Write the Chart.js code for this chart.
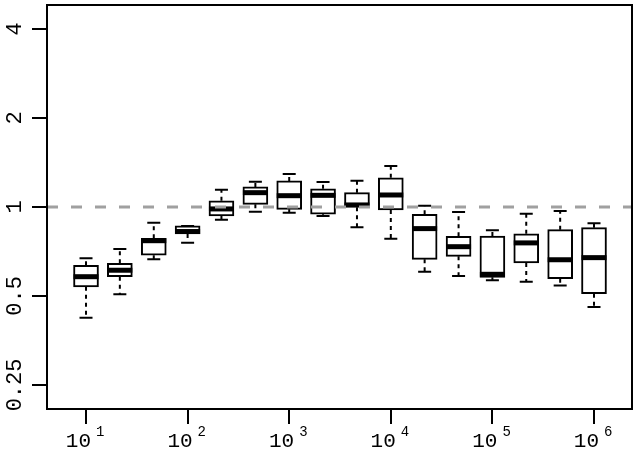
<!DOCTYPE html>
<html>
<head>
<meta charset="utf-8">
<script src="https://cdn.jsdelivr.net/npm/chart.js@4/dist/chart.umd.min.js"></script>
<style>
  html, body { margin: 0; padding: 0; background: #fff; }
  #wrap { width: 639px; height: 456px; }
</style>
</head>
<body>
<div id="wrap"><canvas id="c" width="639" height="456"></canvas></div>
<script>
// Box positions: log10 of size (one box every third of a decade)
const logSize   = [1.000, 1.333, 1.667, 2.000, 2.333, 2.667, 3.000, 3.333, 3.667, 4.000, 4.333, 4.667, 5.000, 5.333, 5.667, 6.000];
// Five-number summaries
const whiskerHi = [0.671, 0.721, 0.885, 0.863, 1.144, 1.218, 1.293, 1.215, 1.227, 1.376, 1.010, 0.962, 0.834, 0.949, 0.969, 0.881];
const q3        = [0.635, 0.645, 0.784, 0.863, 1.050, 1.169, 1.225, 1.153, 1.118, 1.256, 0.945, 0.796, 0.798, 0.812, 0.838, 0.851];
const median    = [0.581, 0.611, 0.769, 0.826, 0.985, 1.118, 1.092, 1.095, 1.016, 1.098, 0.845, 0.734, 0.592, 0.756, 0.663, 0.674];
const q1        = [0.537, 0.581, 0.687, 0.810, 0.932, 1.021, 0.982, 0.945, 0.998, 0.977, 0.665, 0.681, 0.578, 0.647, 0.572, 0.509];
const whiskerLo = [0.422, 0.507, 0.665, 0.757, 0.906, 0.964, 0.957, 0.932, 0.854, 0.781, 0.604, 0.584, 0.565, 0.559, 0.543, 0.459];
// Axis ticks
const xTickExp    = [1, 2, 3, 4, 5, 6];
const yTickValues = [0.25, 0.5, 1, 2, 4];
const yTickLabels = ['0.25', '0.5', '1', '2', '4'];
const refValue = 1;

const FONT = "'Liberation Mono', 'DejaVu Sans Mono', monospace";

const boxPlugin = {
  id: 'boxExtras',
  afterDatasetsDraw(chart) {
    const ctx = chart.ctx;
    const xs = chart.scales.x, ys = chart.scales.y;
    const ca = chart.chartArea;
    ctx.save();
    ctx.strokeStyle = '#000';
    for (let i = 0; i < logSize.length; i++) {
      const px = xs.getPixelForValue(logSize[i]);
      const yHi = ys.getPixelForValue(whiskerHi[i]);
      const yQ3 = ys.getPixelForValue(q3[i]);
      const yQ1 = ys.getPixelForValue(q1[i]);
      const yLo = ys.getPixelForValue(whiskerLo[i]);
      const yMed = ys.getPixelForValue(median[i]);
      // whiskers (dashed)
      ctx.lineWidth = 2;
      ctx.setLineDash([4, 4]);
      ctx.beginPath();
      ctx.moveTo(px, yQ3); ctx.lineTo(px, yHi);
      ctx.moveTo(px, yQ1); ctx.lineTo(px, yLo);
      ctx.stroke();
      // caps
      ctx.setLineDash([]);
      ctx.beginPath();
      ctx.moveTo(px - 6.5, yHi); ctx.lineTo(px + 6.5, yHi);
      ctx.moveTo(px - 6.5, yLo); ctx.lineTo(px + 6.5, yLo);
      ctx.stroke();
      // median
      ctx.lineWidth = 5;
      ctx.beginPath();
      ctx.moveTo(px - 12.5, yMed); ctx.lineTo(px + 12.5, yMed);
      ctx.stroke();
    }
    // reference line
    const yRef = ys.getPixelForValue(refValue);
    ctx.strokeStyle = '#a0a0a0';
    ctx.lineWidth = 3;
    ctx.setLineDash([11, 13]);
    ctx.beginPath();
    ctx.moveTo(ca.left, yRef); ctx.lineTo(ca.right, yRef);
    ctx.stroke();
    ctx.setLineDash([]);
    // frame
    ctx.strokeStyle = '#000';
    ctx.lineWidth = 2;
    ctx.strokeRect(ca.left, ca.top, ca.right - ca.left, ca.bottom - ca.top);
    // y labels (rotated)
    ctx.fillStyle = '#000';
    ctx.font = '22px ' + FONT;
    ctx.textAlign = 'center';
    ctx.textBaseline = 'middle';
    for (let i = 0; i < yTickValues.length; i++) {
      const py = ys.getPixelForValue(yTickValues[i]);
      ctx.save();
      ctx.translate(15, py);
      ctx.rotate(-Math.PI / 2);
      ctx.fillText(yTickLabels[i], 0, 0);
      ctx.restore();
    }
    // x labels 10^k
    ctx.textBaseline = 'alphabetic';
    for (const e of xTickExp) {
      const px = xs.getPixelForValue(e);
      ctx.font = '21px ' + FONT;
      ctx.textAlign = 'right';
      ctx.fillText('10', px + 5, 447);
      ctx.font = '14px ' + FONT;
      ctx.textAlign = 'left';
      ctx.fillText(String(e), px + 10, 436);
    }
    ctx.restore();
  }
};

new Chart(document.getElementById('c'), {
  type: 'bar',
  data: {
    datasets: [{
      data: logSize.map((x, i) => ({ x: x, y: [q1[i], q3[i]] })),
      backgroundColor: '#ffffff',
      borderColor: '#000000',
      borderWidth: 2,
      borderSkipped: false,
      barThickness: 25
    }]
  },
  options: {
    responsive: false,
    animation: false,
    devicePixelRatio: 1,
    layout: { padding: { top: 5, right: 7, left: 0, bottom: 0 } },
    plugins: { legend: { display: false }, tooltip: { enabled: false } },
    scales: {
      x: {
        type: 'linear',
        min: 0.616, max: 6.374,
        offset: false,
        afterBuildTicks: s => { s.ticks = xTickExp.map(v => ({ value: v })); },
        afterFit: s => { s.height = 47; },
        ticks: { display: false },
        grid: { offset: false, drawOnChartArea: false, drawTicks: true, tickLength: 15, color: '#000', lineWidth: 2 },
        border: { display: false }
      },
      y: {
        type: 'logarithmic',
        min: 0.2073, max: 4.823,
        afterBuildTicks: s => { s.ticks = yTickValues.map(v => ({ value: v })); },
        afterFit: s => { s.width = 47; },
        ticks: { display: false },
        grid: { drawOnChartArea: false, drawTicks: true, tickLength: 15, color: '#000', lineWidth: 2 },
        border: { display: false }
      }
    }
  },
  plugins: [boxPlugin]
});
</script>
</body>
</html>
